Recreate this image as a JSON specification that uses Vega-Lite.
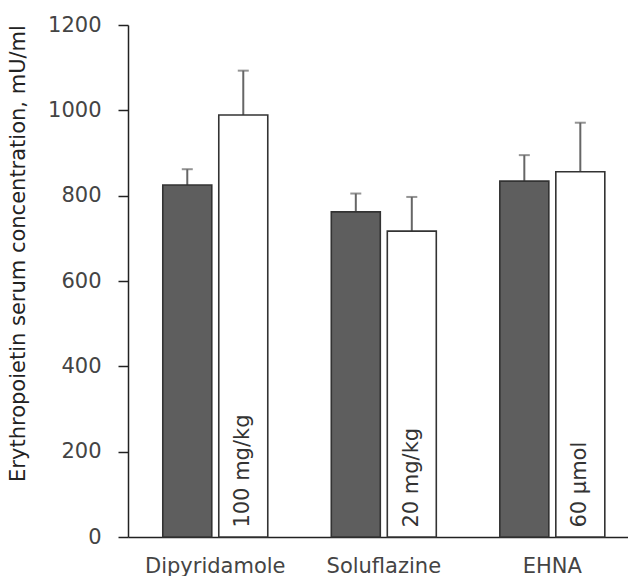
{
  "$schema": "https://vega.github.io/schema/vega-lite/v6.json",
  "autosize": "none",
  "width": 500,
  "height": 512,
  "padding": {"left": 128, "top": 25, "right": 0, "bottom": 39},
  "background": "white",
  "config": {
    "view": {"stroke": null},
    "font": "DejaVu Sans"
  },
  "data": {
    "values": [
      {"drug": "Dipyridamole", "group": "control", "value": 825, "upper": 862, "dose": ""},
      {"drug": "Dipyridamole", "group": "treated", "value": 989, "upper": 1093, "dose": "100 mg/kg"},
      {"drug": "Soluflazine", "group": "control", "value": 762, "upper": 805, "dose": ""},
      {"drug": "Soluflazine", "group": "treated", "value": 717, "upper": 797, "dose": "20 mg/kg"},
      {"drug": "EHNA", "group": "control", "value": 834, "upper": 895, "dose": ""},
      {"drug": "EHNA", "group": "treated", "value": 856, "upper": 971, "dose": "60 µmol"}
    ]
  },
  "encoding": {
    "x": {
      "field": "drug",
      "type": "nominal",
      "sort": ["Dipyridamole", "Soluflazine", "EHNA"],
      "scale": {"paddingInner": 0.377, "paddingOuter": 0.172, "align": 0.6},
      "axis": {
        "title": null,
        "labelAngle": 0,
        "ticks": false,
        "labelFontSize": 21,
        "labelColor": "#444",
        "labelPadding": 18,
        "domainColor": "#222",
        "domainWidth": 1.5,
        "labelFont": "DejaVu Sans"
      }
    },
    "xOffset": {
      "field": "group",
      "type": "nominal",
      "sort": ["control", "treated"],
      "scale": {"paddingInner": 0.125, "paddingOuter": 0}
    }
  },
  "layer": [
    {
      "mark": {"type": "rule", "color": "#666", "strokeWidth": 2},
      "encoding": {
        "y": {"field": "value", "type": "quantitative"},
        "y2": {"field": "upper"}
      }
    },
    {
      "mark": {"type": "tick", "color": "#666", "thickness": 2, "size": 11, "orient": "horizontal"},
      "encoding": {
        "y": {"field": "upper", "type": "quantitative"}
      }
    },
    {
      "mark": {"type": "bar", "stroke": "#333", "strokeWidth": 1.6},
      "encoding": {
        "y": {
          "field": "value",
          "type": "quantitative",
          "scale": {"domain": [0, 1200], "nice": false, "zero": true},
          "axis": {
            "values": [0, 200, 400, 600, 800, 1000, 1200],
            "format": "d",
            "grid": false,
            "tickSize": 10,
            "tickColor": "#222",
            "tickWidth": 1.5,
            "domainColor": "#222",
            "domainWidth": 1.5,
            "labelFontSize": 21,
            "labelColor": "#444",
            "labelPadding": 17,
            "labelFont": "DejaVu Sans",
            "title": "Erythropoietin serum concentration, mU/ml",
            "titleFont": "DejaVu Sans",
            "titleFontSize": 21,
            "titleFontWeight": "normal",
            "titleColor": "#222",
            "titleAngle": 270,
            "titleAlign": "center",
            "titleBaseline": "middle",
            "titleX": -110,
            "titleY": 228
          }
        },
        "fill": {
          "field": "group",
          "type": "nominal",
          "scale": {"domain": ["control", "treated"], "range": ["#5e5e5e", "#ffffff"]},
          "legend": null
        }
      }
    },
    {
      "mark": {"type": "text", "angle": 270, "align": "left", "baseline": "middle", "fontSize": 21, "font": "DejaVu Sans", "color": "#333"},
      "encoding": {
        "y": {"datum": 22, "type": "quantitative"},
        "text": {"field": "dose"}
      }
    }
  ]
}
